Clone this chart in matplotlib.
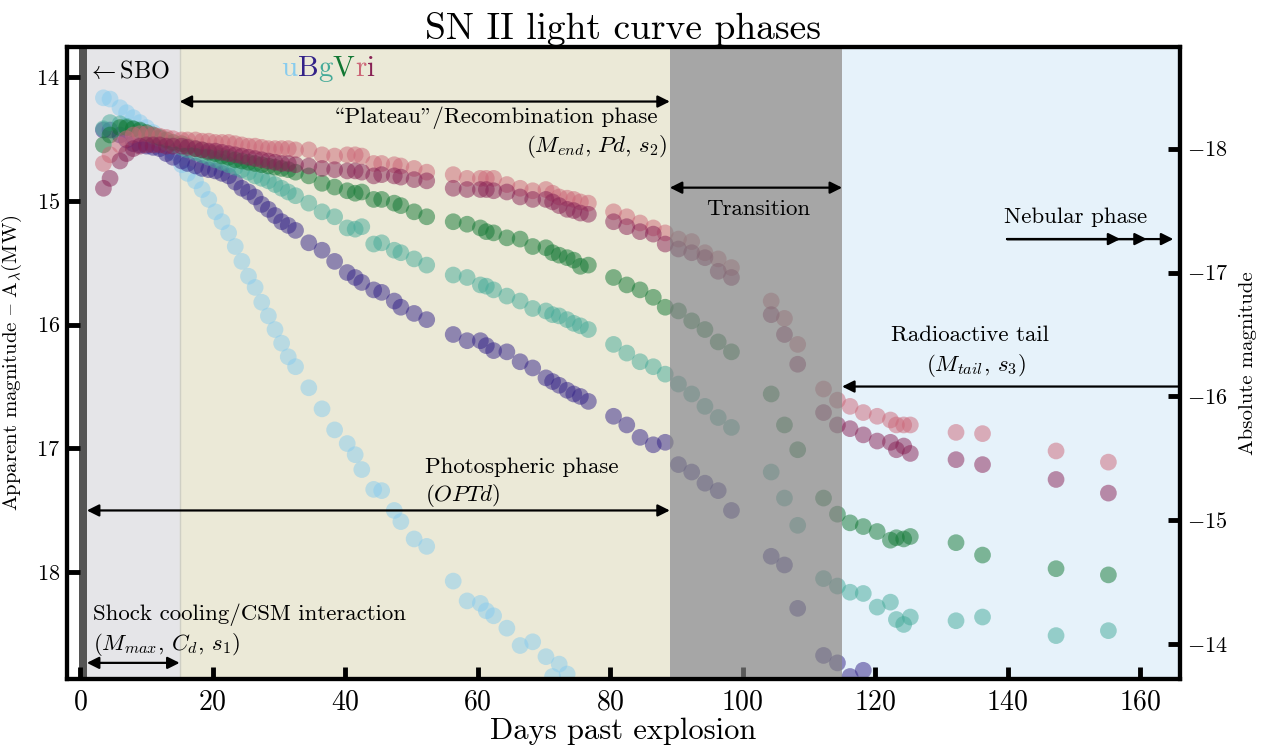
import matplotlib
matplotlib.use("Agg")
import matplotlib.pyplot as plt

plt.rcParams["font.family"] = ["cmr10", "DejaVu Serif"]
plt.rcParams["mathtext.fontset"] = "cm"
plt.rcParams["axes.formatter.use_mathtext"] = True

# Distance modulus used for the absolute-magnitude axis
DIST_MOD = 32.58

# Observation epochs (days past explosion)
EARLY = [3.5, 4.5, 6.0, 7.0, 8.0, 9.0, 10.0, 11.0, 12.0, 13.0, 14.0]
PLAT1 = [15.3, 16.2, 17.4, 18.4, 19.4, 20.4, 21.4, 22.4, 23.4, 24.4, 25.4, 26.4,
         27.4, 28.4, 29.4, 30.4, 31.4, 32.5, 34.5, 36.5, 38.4, 40.3, 41.5, 42.5,
         44.3, 45.5, 47.4, 48.4, 50.4, 52.3]
PLAT2 = [56.3, 58.4, 60.4, 61.3, 62.4, 64.4, 66.4, 68.3, 70.3, 71.3, 72.3, 73.5,
         74.5, 75.5, 76.7]
DROP1 = [80.5, 82.5, 84.5, 86.5, 88.3, 90.3, 92.3, 94.3, 96.3, 98.3]
DROP2 = [104.3, 106.3, 108.3]
TAIL = [112.2, 114.3, 116.2, 118.2, 120.3, 122.3, 123.2, 124.3, 125.3, 132.2,
        136.2, 147.3, 155.2]

ALL_EPOCHS = EARLY + PLAT1 + PLAT2 + DROP1 + DROP2 + TAIL

# Apparent magnitudes (corrected for Milky Way extinction)
u_days = EARLY + PLAT1 + PLAT2[:12]
u_mag = [14.17, 14.18, 14.25, 14.29, 14.33, 14.37, 14.41, 14.45, 14.50, 14.55, 14.61,
         14.71, 14.78, 14.84, 14.91, 14.99, 15.09, 15.17, 15.26, 15.37, 15.49, 15.61,
         15.70, 15.82, 15.93, 16.04, 16.15, 16.26, 16.34, 16.51, 16.68, 16.85, 16.96,
         17.05, 17.17, 17.33, 17.34, 17.50, 17.59, 17.73, 17.79,
         18.07, 18.23, 18.25, 18.31, 18.35, 18.45, 18.59, 18.56, 18.68, 18.84, 18.74, 18.82]

B_days = EARLY + PLAT1 + PLAT2 + DROP1 + DROP2 + TAIL[:6]
B_mag = [14.43, 14.43, 14.47, 14.51, 14.54, 14.55, 14.56, 14.57, 14.58, 14.62, 14.65,
         14.68, 14.70, 14.72, 14.74, 14.75, 14.76, 14.78, 14.80, 14.85, 14.90, 14.93,
         14.97, 15.03, 15.07, 15.12, 15.17, 15.20, 15.24, 15.34, 15.40, 15.49, 15.58,
         15.62, 15.66, 15.72, 15.74, 15.81, 15.86, 15.91, 15.96,
         16.08, 16.13, 16.13, 16.17, 16.21, 16.22, 16.30, 16.35, 16.43, 16.46, 16.49,
         16.53, 16.56, 16.58, 16.62,
         16.74, 16.81, 16.91, 16.97, 16.95, 17.13, 17.19, 17.28, 17.34, 17.50,
         17.87, 17.94, 18.29,
         18.67, 18.73, 18.84, 18.79, 18.91, 18.94]

g_days = ALL_EPOCHS
g_mag = [14.42, 14.37, 14.38, 14.40, 14.42, 14.44, 14.46, 14.48, 14.50, 14.53, 14.55,
         14.57, 14.59, 14.61, 14.63, 14.65, 14.67, 14.69, 14.71, 14.73, 14.75, 14.77,
         14.80, 14.82, 14.84, 14.87, 14.90, 14.93, 14.96, 15.02, 15.09, 15.13, 15.22,
         15.23, 15.21, 15.35, 15.34, 15.40, 15.42, 15.47, 15.52,
         15.60, 15.62, 15.68, 15.69, 15.72, 15.77, 15.81, 15.87, 15.89, 15.92, 15.93,
         15.96, 15.99, 16.01, 16.04,
         16.16, 16.23, 16.30, 16.34, 16.40, 16.48, 16.56, 16.66, 16.75, 16.83,
         17.19, 17.40, 17.62,
         18.05, 18.11, 18.16, 18.17, 18.28, 18.24, 18.38, 18.42, 18.36, 18.39, 18.36,
         18.51, 18.47]

V_days = ALL_EPOCHS
V_mag = [14.55, 14.47, 14.41, 14.41, 14.42, 14.43, 14.45, 14.47, 14.49, 14.51, 14.53,
         14.54, 14.56, 14.58, 14.59, 14.61, 14.62, 14.64, 14.65, 14.67, 14.68, 14.69,
         14.70, 14.71, 14.72, 14.73, 14.74, 14.75, 14.77, 14.80, 14.86, 14.89, 14.92,
         14.94, 14.93, 14.99, 14.99, 15.02, 15.04, 15.09, 15.13,
         15.17, 15.19, 15.22, 15.25, 15.26, 15.30, 15.31, 15.37, 15.38, 15.42, 15.44,
         15.46, 15.48, 15.53, 15.52,
         15.62, 15.68, 15.72, 15.78, 15.86, 15.89, 15.97, 16.04, 16.14, 16.22,
         16.56, 16.81, 17.01,
         17.40, 17.53, 17.60, 17.63, 17.67, 17.74, 17.72, 17.73, 17.71, 17.76, 17.86,
         17.97, 18.02]

r_days = ALL_EPOCHS
r_mag = [14.70, 14.63, 14.55, 14.50, 14.47, 14.46, 14.46, 14.47, 14.48, 14.49, 14.50,
         14.51, 14.51, 14.51, 14.52, 14.52, 14.53, 14.53, 14.53, 14.54, 14.55, 14.56,
         14.56, 14.57, 14.58, 14.58, 14.58, 14.58, 14.59, 14.59, 14.63, 14.64, 14.63,
         14.63, 14.64, 14.70, 14.70, 14.71, 14.72, 14.74, 14.77,
         14.79, 14.82, 14.82, 14.82, 14.82, 14.87, 14.90, 14.92, 14.91, 14.94, 14.97,
         14.98, 14.99, 15.01, 15.02,
         15.09, 15.13, 15.18, 15.22, 15.26, 15.31, 15.33, 15.42, 15.47, 15.54,
         15.81, 15.95, 16.16,
         16.52, 16.61, 16.66, 16.71, 16.74, 16.77, 16.81, 16.81, 16.81, 16.87, 16.88,
         17.02, 17.11]

i_days = ALL_EPOCHS
i_mag = [14.90, 14.82, 14.68, 14.62, 14.58, 14.56, 14.55, 14.55, 14.55, 14.56, 14.56,
         14.56, 14.57, 14.58, 14.59, 14.60, 14.60, 14.61, 14.62, 14.63, 14.64, 14.65,
         14.66, 14.67, 14.68, 14.69, 14.70, 14.70, 14.71, 14.72, 14.74, 14.75, 14.76,
         14.76, 14.77, 14.80, 14.79, 14.80, 14.81, 14.83, 14.84,
         14.90, 14.91, 14.91, 14.91, 14.92, 14.93, 14.97, 14.99, 14.99, 15.01, 15.04,
         15.07, 15.08, 15.10, 15.11,
         15.17, 15.21, 15.25, 15.27, 15.35, 15.39, 15.42, 15.46, 15.57, 15.62,
         15.92, 16.08, 16.32,
         16.71, 16.81, 16.84, 16.89, 16.94, 16.95, 17.01, 16.98, 17.04, 17.09, 17.13,
         17.25, 17.36]

BANDS = ["u", "B", "g", "V", "r", "i"]
BAND_COLORS = ["#88CCEE", "#332288", "#44AA99", "#117733", "#CC6677", "#882255"]
BAND_DATA = [(u_days, u_mag), (B_days, B_mag), (g_days, g_mag),
             (V_days, V_mag), (r_days, r_mag), (i_days, i_mag)]

# Phase boundaries (days)
T_SBO = 1.0
T_COOL = 15.0
T_PLAT = 89.0
T_TRANS = 115.0
X_MIN, X_MAX = -2.0, 166.0
Y_BRIGHT, Y_FAINT = 13.76, 18.86

fig = plt.figure(figsize=(12.64, 7.51), dpi=100)
ax = fig.add_axes([0.0530, 0.0959, 0.8805, 0.8415])

# Phase shading
ax.axvspan(-0.2, T_SBO, color="#555555", lw=0, zorder=0)
ax.axvspan(T_SBO, T_COOL, color="#e5e5e8", lw=0, zorder=0)
ax.axvspan(T_COOL, T_PLAT, color="#ebe9d7", lw=0, zorder=0)
ax.axvspan(T_TRANS, X_MAX + 5, color="#e6f2fa", lw=0, zorder=0)
ax.axvline(T_COOL, color="#cfcfc4", lw=1, zorder=0.5)

for (d, m), c in zip(BAND_DATA, BAND_COLORS):
    ax.scatter(d, m, s=145, color=c, alpha=0.5, edgecolors="none", zorder=2)

# Transition shading drawn over the light curves
ax.axvspan(T_PLAT, T_TRANS, color="#808080", alpha=0.7, lw=0, zorder=3)

ax.set_xlim(X_MIN, X_MAX)
ax.set_ylim(Y_FAINT, Y_BRIGHT)
ax.set_xticks([0, 20, 40, 60, 80, 100, 120, 140, 160])
ax.set_yticks([14, 15, 16, 17, 18])
ax.tick_params(axis="x", direction="in", length=9, width=3.5, labelsize=20, pad=7,
               top=False)
ax.tick_params(axis="y", direction="in", length=9, width=3.5, labelsize=16, pad=5,
               right=False)
for sp in ax.spines.values():
    sp.set_linewidth(3)

ax.set_xlabel("Days past explosion", fontsize=22, labelpad=2)
# cmr10 uses the TeX text encoding: "{" is the en dash glyph
ax.set_ylabel(r"Apparent magnitude { A$_{\lambda}$(MW)", fontsize=15, labelpad=9)
ax.set_title("SN II light curve phases", fontsize=27, pad=6)

ax2 = ax.twinx()
ax2.set_ylim(Y_FAINT - DIST_MOD, Y_BRIGHT - DIST_MOD)
ax2.set_yticks([-18, -17, -16, -15, -14])
ax2.tick_params(axis="y", direction="in", length=9, width=3.5, labelsize=16, pad=5)
for sp in ax2.spines.values():
    sp.set_linewidth(3)
ax2.set_ylabel("Absolute magnitude", fontsize=15, labelpad=8)

TXT = 16.5
arrow_kw = dict(arrowstyle="<|-|>", color="black", lw=1.6, mutation_scale=18,
                shrinkA=0, shrinkB=0)
one_kw = dict(arrowstyle="-|>", color="black", lw=1.6, mutation_scale=18,
              shrinkA=0, shrinkB=0)


def span_arrow(x0, x1, y, kw):
    ax.annotate("", xy=(x1, y), xytext=(x0, y), arrowprops=kw, zorder=5)


# Shock breakout
ax.text(1.0, 13.96, r"$\leftarrow$SBO", fontsize=TXT + 1, ha="left", va="center",
        zorder=5)

# Plateau / recombination ("\\" and '"' are the TeX open/close quote glyphs in cmr10)
span_arrow(T_COOL, T_PLAT, 14.20, arrow_kw)
ax.text(87.2, 14.33, '\\Plateau"/Recombination phase', fontsize=TXT, ha="right",
        va="center", zorder=5)
ax.text(88.6, 14.56, r"($M_{end}$, $Pd$, $s_2$)", fontsize=TXT, ha="right",
        va="center", zorder=5)

# Transition
span_arrow(T_PLAT, T_TRANS, 14.895, arrow_kw)
ax.text(102.3, 15.07, "Transition", fontsize=TXT, ha="center", va="center", zorder=5)

# Nebular phase
ax.text(150.2, 15.13, "Nebular phase", fontsize=TXT, ha="center", va="center",
        zorder=5)
for tip in (157.0, 161.0, 165.0):
    span_arrow(139.9, tip, 15.31, one_kw)

# Radioactive tail
span_arrow(X_MAX, T_TRANS, 16.50, one_kw)
ax.text(134.3, 16.09, "Radioactive tail", fontsize=TXT, ha="center", va="center",
        zorder=5)
ax.text(135.2, 16.33, r"($M_{tail}$, $s_3$)", fontsize=TXT, ha="center",
        va="center", zorder=5)

# Photospheric phase
span_arrow(T_SBO, T_PLAT, 17.50, arrow_kw)
ax.text(52.1, 17.15, "Photospheric phase", fontsize=TXT, ha="left", va="center",
        zorder=5)
ax.text(52.1, 17.38, r"($OPTd$)", fontsize=TXT, ha="left", va="center", zorder=5)

# Shock cooling
span_arrow(T_SBO, T_COOL, 18.73, arrow_kw)
ax.text(1.9, 18.34, "Shock cooling/CSM interaction", fontsize=TXT, ha="left",
        va="center", zorder=5)
ax.text(1.9, 18.58, r"($M_{max}$, $C_d$, $s_1$)", fontsize=TXT, ha="left",
        va="center", zorder=5)

# Coloured filter names
fig.canvas.draw()
renderer = fig.canvas.get_renderer()
x_cur = 30.4
for band, col in zip(BANDS, BAND_COLORS):
    t = ax.text(x_cur, 13.99, band, color=col, fontsize=21, ha="left",
                va="baseline", zorder=5)
    bb = t.get_window_extent(renderer)
    x_cur = ax.transData.inverted().transform((bb.x1, bb.y0))[0]

fig.savefig("out.png", dpi=100)
